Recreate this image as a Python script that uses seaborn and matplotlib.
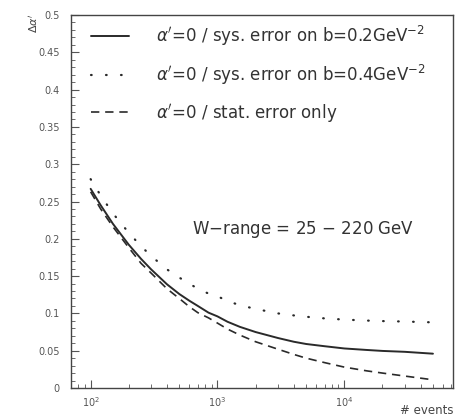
import matplotlib
matplotlib.use("Agg")
import matplotlib.pyplot as plt
import matplotlib.ticker as mticker
import numpy as np
import pandas as pd
import seaborn as sns

# ---- data ----
events = [100, 120, 150, 200, 250, 300, 400, 500, 600, 700, 850, 1000, 1200,
          1500, 2000, 3000, 4000, 5000, 7000, 10000, 15000, 20000, 30000, 50000]
sys_02 = [0.267, 0.245, 0.220, 0.192, 0.173, 0.159, 0.139, 0.126, 0.117,
          0.110, 0.101, 0.096, 0.0888, 0.082, 0.075, 0.067, 0.062, 0.059,
          0.056, 0.053, 0.051, 0.0497, 0.0485, 0.046]
sys_04 = [0.280, 0.258, 0.234, 0.208, 0.190, 0.177, 0.159, 0.148, 0.140,
          0.133, 0.1266, 0.123, 0.1166, 0.111, 0.106, 0.100, 0.0973, 0.0955,
          0.0933, 0.0917, 0.0904, 0.0897, 0.0891, 0.088]
stat_only = [0.263, 0.240, 0.216, 0.188, 0.167, 0.154, 0.133, 0.120, 0.109,
             0.101, 0.094, 0.087, 0.079, 0.071, 0.062, 0.052, 0.045, 0.040,
             0.034, 0.028, 0.023, 0.020, 0.016, 0.011]

labels = [r"$\alpha'$=0 / sys. error on b=0.2GeV$^{-2}$",
          r"$\alpha'$=0 / sys. error on b=0.4GeV$^{-2}$",
          r"$\alpha'$=0 / stat. error only"]
annotation = "W$-$range = 25 $-$ 220 GeV"
xlabel = "# events"
ylabel = r"$\Delta\alpha'$"

df = pd.DataFrame({"events": events, "sys02": sys_02, "sys04": sys_04,
                   "stat": stat_only})

sns.set_style("ticks")
plt.rcParams["font.family"] = ["DejaVu Sans"]
plt.rcParams["mathtext.fontset"] = "dejavusans"

fig = plt.figure(figsize=(4.68, 4.20), dpi=100)
ax = fig.add_axes([0.1517, 0.0762, 0.8163, 0.888])

line_col = "#2a2a2a"
sns.lineplot(data=df, x="events", y="sys02", ax=ax, color=line_col,
             linewidth=1.4, label=labels[0])
sns.lineplot(data=df, x="events", y="sys04", ax=ax, color=line_col,
             linewidth=1.6, linestyle=(0, (0.3, 6.45)), dash_capstyle="round",
             label=labels[1])
sns.lineplot(data=df, x="events", y="stat", ax=ax, color=line_col,
             linewidth=1.2, linestyle=(0, (5, 3.5)), label=labels[2])

ax.set_xscale("log")
ax.set_xlim(70, 72000)
ax.set_ylim(0, 0.5)

ax.yaxis.set_major_locator(mticker.MultipleLocator(0.05))
ax.yaxis.set_minor_locator(mticker.MultipleLocator(0.01))
ax.yaxis.set_major_formatter(mticker.FuncFormatter(
    lambda v, p: "0" if abs(v) < 1e-9 else f"{v:.2f}".rstrip("0").rstrip(".")))
ax.xaxis.set_major_locator(mticker.LogLocator(base=10, numticks=10))
ax.xaxis.set_minor_locator(mticker.LogLocator(base=10, subs=np.arange(2, 10), numticks=20))
ax.xaxis.set_minor_formatter(mticker.NullFormatter())

tick_col = "#555555"
ax.tick_params(axis="both", which="major", direction="in", length=6,
               width=0.8, colors=tick_col, labelsize=7, labelcolor="#555555",
               top=False, right=False)
ax.tick_params(axis="both", which="minor", direction="in", length=3,
               width=0.6, colors=tick_col, top=False, right=False)
ax.tick_params(axis="y", pad=8)
ax.tick_params(axis="x", pad=5)

for s in ax.spines.values():
    s.set_visible(True)
    s.set_color("#444444")
    s.set_linewidth(1.0)

ax.set_xlabel(xlabel, fontsize=8.5, color="#444444", ha="right", va="center")
ax.xaxis.set_label_coords(1.0, -0.059)
ax.set_ylabel(ylabel, loc="top", fontsize=8, color="#444444")
ax.yaxis.set_label_coords(-0.081, 1.005)

ax.text(0.317, 0.424, annotation, transform=ax.transAxes, fontsize=12,
        color="#333333", va="center", ha="left")

leg = ax.legend(loc="upper left", bbox_to_anchor=(0.035, 0.995), frameon=False,
                fontsize=12, handlelength=2.3, handletextpad=1.6,
                labelspacing=0.9, borderaxespad=0.0)
for t in leg.get_texts():
    t.set_color("#333333")

fig.savefig("out.png", dpi=100, facecolor="white")
